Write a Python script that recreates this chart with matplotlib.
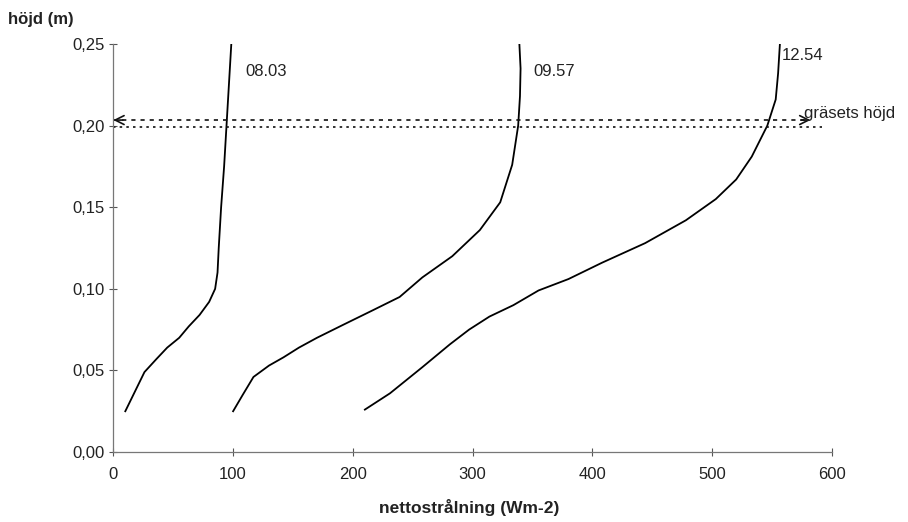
import numpy as np
import matplotlib.pyplot as plt

plt.rcParams['font.family'] = ['Liberation Sans', 'DejaVu Sans']

# nettostrålning (Wm-2) mot höjd (m), tre tidpunkter
x_0803 = [10, 18, 26, 36, 45, 55, 63, 72, 80, 85, 87, 88, 90, 92.5, 94.5, 96.5, 98.5]
y_0803 = [0.025, 0.037, 0.049, 0.057, 0.064, 0.070, 0.077, 0.084, 0.092, 0.100, 0.110, 0.125, 0.150, 0.175, 0.200, 0.225, 0.250]

x_0957 = [100, 108, 117, 130, 142, 155, 170, 192, 217, 239, 258, 283, 306, 323, 333, 338, 339.5, 340, 339]
y_0957 = [0.025, 0.035, 0.046, 0.053, 0.058, 0.064, 0.070, 0.078, 0.087, 0.095, 0.107, 0.120, 0.136, 0.153, 0.176, 0.200, 0.218, 0.235, 0.250]

x_1254 = [210, 231, 258, 281, 297, 314, 334, 355, 380, 408, 444, 478, 503, 520, 533, 546, 553, 555, 556.5]
y_1254 = [0.026, 0.036, 0.052, 0.066, 0.075, 0.083, 0.090, 0.099, 0.106, 0.116, 0.128, 0.142, 0.155, 0.167, 0.181, 0.200, 0.216, 0.232, 0.250]

labels = ['08.03', '09.57', '12.54']
label_x = [110, 351, 558]
label_y = [0.233, 0.233, 0.243]

fs = 12

fig = plt.figure(figsize=(9.08, 5.22), dpi=100)
ax = fig.add_axes([0.1248, 0.134, 0.7915, 0.7817])

for xs, ys in [(x_0803, y_0803), (x_0957, y_0957), (x_1254, y_1254)]:
    ax.plot(xs, ys, color='black', lw=1.3)

for t, tx, ty in zip(labels, label_x, label_y):
    ax.text(tx, ty, t, fontsize=fs, ha='left', va='center', color='#222222')

# gräsets höjd: streckad pil + prickad linje
ax.plot([0, 582], [0.2034, 0.2034], color='#111111', lw=1.2, linestyle=(0, (2.5, 3)))
for tip, tail in [(0, 8), (582, 574)]:
    ax.annotate('', xy=(tip, 0.2034), xytext=(tail, 0.2034),
                arrowprops=dict(arrowstyle='->', color='#111111', lw=1.2,
                                mutation_scale=16, shrinkA=0, shrinkB=0))
ax.plot([0, 592], [0.1991, 0.1991], color='#111111', lw=1.2, linestyle=(0, (1.5, 2.5)))
ax.text(577, 0.2075, 'gräsets höjd', fontsize=fs, ha='left', va='center', color='#222222')

ax.set_xlim(0, 600)
ax.set_ylim(0, 0.25)
ax.set_xticks([0, 100, 200, 300, 400, 500, 600])
ax.set_yticks([0, 0.05, 0.10, 0.15, 0.20, 0.25])
ax.set_yticklabels(['0,00', '0,05', '0,10', '0,15', '0,20', '0,25'])
ax.tick_params(direction='inout', length=6, width=0.8, labelsize=fs, colors='#555555', labelcolor='#222222')
ax.tick_params(axis='x', pad=8)
for s in ['top', 'right']:
    ax.spines[s].set_visible(False)
for s in ['left', 'bottom']:
    ax.spines[s].set_color('#777777')
    ax.spines[s].set_linewidth(0.9)

fig.text(0.009, 0.962, 'höjd (m)', fontsize=fs, fontweight='bold', ha='left', va='center', color='#222222')
fig.text(0.517, 0.028, 'nettostrålning (Wm-2)', fontsize=fs + 0.5, fontweight='bold', ha='center', va='center', color='#222222')

fig.savefig('out.png', dpi=100)
